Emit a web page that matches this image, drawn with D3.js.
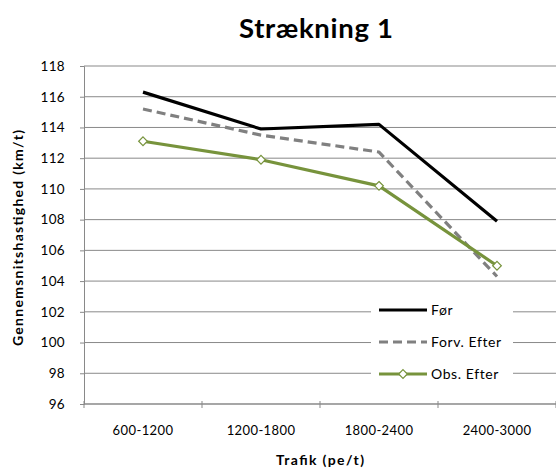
<!DOCTYPE html>
<html>
<head>
<meta charset="utf-8">
<script src="https://cdn.jsdelivr.net/npm/d3@7"></script>
<style>
  body { margin: 0; background: #fff; }
  svg { display: block; font-family: Lato, "Open Sans", sans-serif; }
</style>
</head>
<body>
<script>
const categories = ["600-1200", "1200-1800", "1800-2400", "2400-3000"];
const forValues = [116.3, 113.9, 114.2, 107.9];
const forvEfterValues = [115.2, 113.5, 112.4, 104.3];
const obsEfterValues = [113.1, 111.9, 110.2, 105.0];
const yTicks = [96, 98, 100, 102, 104, 106, 108, 110, 112, 114, 116, 118];

const series = [
  { name: "Før", values: forValues, color: "#000000", dash: null, marker: false },
  { name: "Forv. Efter", values: forvEfterValues, color: "#808080", dash: "9,5", marker: false },
  { name: "Obs. Efter", values: obsEfterValues, color: "#77933C", dash: null, marker: true }
];

const w = 556, h = 474;
const plotLeft = 84, plotRight = 556, plotTop = 66, plotBottom = 404;

const svg = d3.select("body").append("svg")
  .attr("width", w)
  .attr("height", h);

const x = d3.scaleBand().domain(categories).range([plotLeft, plotRight]);
const y = d3.scaleLinear().domain([96, 118]).range([plotBottom, plotTop]);

// gridlines
svg.append("g")
  .selectAll("line")
  .data(yTicks)
  .enter()
  .append("line")
  .attr("x1", plotLeft)
  .attr("x2", plotRight)
  .attr("y1", d => y(d))
  .attr("y2", d => y(d))
  .attr("stroke", "#898989")
  .attr("stroke-width", 1);

// y axis
const yAxis = svg.append("g")
  .attr("transform", "translate(" + plotLeft + ",0)")
  .call(d3.axisLeft(y).tickValues(yTicks).tickSize(4).tickPadding(15));
yAxis.selectAll("path, line").attr("stroke", "#898989");
yAxis.selectAll("text")
  .attr("font-size", 13.5)
  .attr("fill", "#000")
  .attr("font-family", "Lato, sans-serif")
  .attr("letter-spacing", 0.3);

// x axis
const xAxis = svg.append("g")
  .attr("transform", "translate(0," + plotBottom + ")");
xAxis.append("line")
  .attr("x1", plotLeft).attr("x2", plotRight)
  .attr("stroke", "#898989");
xAxis.selectAll(".tk")
  .data(d3.range(categories.length + 1))
  .enter()
  .append("line")
  .attr("x1", i => plotLeft + i * x.bandwidth())
  .attr("x2", i => plotLeft + i * x.bandwidth())
  .attr("y1", -3).attr("y2", 4)
  .attr("stroke", "#898989");
xAxis.selectAll(".lbl")
  .data(categories)
  .enter()
  .append("text")
  .attr("x", d => x(d) + x.bandwidth() / 2)
  .attr("y", 31)
  .attr("text-anchor", "middle")
  .attr("font-size", 13)
  .attr("letter-spacing", 0.4)
  .text(d => d);

// lines
const line = d3.line()
  .x((d, i) => x(categories[i]) + x.bandwidth() / 2)
  .y(d => y(d));

series.forEach(s => {
  svg.append("path")
    .datum(s.values)
    .attr("d", line)
    .attr("fill", "none")
    .attr("stroke", s.color)
    .attr("stroke-width", 3.2)
    .attr("stroke-dasharray", s.dash)
    .attr("stroke-linejoin", "round");
  if (s.marker) {
    svg.selectAll(".m")
      .data(s.values)
      .enter()
      .append("path")
      .attr("d", d3.symbol().type(d3.symbolDiamond2).size(48))
      .attr("transform", (d, i) => "translate(" + (x(categories[i]) + x.bandwidth() / 2) + "," + y(d) + ")")
      .attr("fill", "#fff")
      .attr("stroke", s.color)
      .attr("stroke-width", 1.2);
  }
});

// legend
const legend = svg.append("g");
legend.append("rect")
  .attr("x", 371).attr("y", 295)
  .attr("width", 142).attr("height", 92)
  .attr("fill", "#fff");
series.forEach((s, i) => {
  const ly = 310 + i * 32;
  legend.append("line")
    .attr("x1", 379).attr("x2", 427)
    .attr("y1", ly).attr("y2", ly)
    .attr("stroke", s.color)
    .attr("stroke-width", 3.2)
    .attr("stroke-dasharray", s.dash);
  if (s.marker) {
    legend.append("path")
      .attr("d", d3.symbol().type(d3.symbolDiamond2).size(48))
      .attr("transform", "translate(403," + ly + ")")
      .attr("fill", "#fff")
      .attr("stroke", s.color)
      .attr("stroke-width", 1.2);
  }
  legend.append("text")
    .attr("x", 431)
    .attr("y", ly + 5)
    .attr("font-size", 14)
    .attr("letter-spacing", 0.6)
    .text(s.name);
});

// title
svg.append("text")
  .attr("x", 316)
  .attr("y", 38)
  .attr("text-anchor", "middle")
  .attr("font-size", 27.5)
  .attr("font-weight", "bold")
  .attr("textLength", 154)
  .attr("lengthAdjust", "spacing")
  .text("Strækning 1");

// axis titles
svg.append("text")
  .attr("x", 320)
  .attr("y", 465)
  .attr("text-anchor", "middle")
  .attr("font-size", 14)
  .attr("font-weight", "bold")
  .attr("textLength", 88)
  .attr("lengthAdjust", "spacing")
  .text("Trafik (pe/t)");

svg.append("text")
  .attr("transform", "translate(23,238) rotate(-90)")
  .attr("text-anchor", "middle")
  .attr("font-size", 14)
  .attr("font-weight", "bold")
  .attr("textLength", 216)
  .attr("lengthAdjust", "spacing")
  .text("Gennemsnitshastighed (km/t)");
</script>
</body>
</html>
